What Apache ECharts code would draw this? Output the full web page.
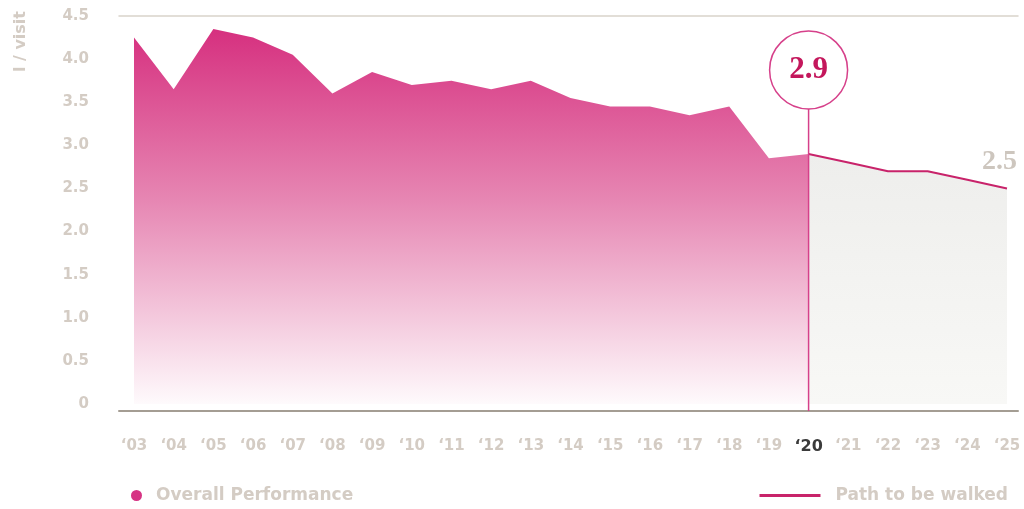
<!DOCTYPE html>
<html>
<head>
<meta charset="utf-8">
<script src="https://cdn.jsdelivr.net/npm/echarts@6/dist/echarts.min.js"></script>
<style>
  html, body { margin: 0; padding: 0; background: #fff; }
  #chart { width: 1024px; height: 509px; }
</style>
</head>
<body>
<div id="chart"></div>
<script>
const years = ['‘03', '‘04', '‘05', '‘06', '‘07', '‘08', '‘09', '‘10', '‘11', '‘12', '‘13', '‘14',
  '‘15', '‘16', '‘17', '‘18', '‘19', '‘20', '‘21', '‘22', '‘23', '‘24', '‘25'];
const overall = [4.25, 3.65, 4.35, 4.25, 4.05, 3.6, 3.85, 3.7, 3.75, 3.65, 3.75, 3.55,
  3.45, 3.45, 3.35, 3.45, 2.85, 2.9, '-', '-', '-', '-', '-'];
const path = ['-', '-', '-', '-', '-', '-', '-', '-', '-', '-', '-', '-',
  '-', '-', '-', '-', '-', 2.9, 2.8, 2.7, 2.7, 2.6, 2.5];
const currentYear = '‘20';
const currentValue = 2.9;

const labelGray = '#d4ccc4';
const pink = '#d63384';
const crimson = '#c8236a';
const sansFont = 'DejaVu Sans';

const chart = echarts.init(document.getElementById('chart'));

chart.setOption({
  animation: false,
  grid: [
    { left: 134, right: 17, top: 16, bottom: 105 },
    { left: 119, right: 6, top: 16, bottom: 105 }
  ],
  xAxis: [
    {
      type: 'category',
      gridIndex: 0,
      data: years,
      boundaryGap: false,
      axisLine: { show: false },
      axisTick: { show: false },
      axisLabel: {
        interval: 0,
        margin: 35,
        color: labelGray,
        fontFamily: sansFont,
        fontWeight: 'bold',
        fontSize: 15,
        formatter: v => v === currentYear ? '{hl|' + v + '}' : v,
        rich: {
          hl: { color: '#3a3a3a', fontFamily: sansFont, fontWeight: 'bold', fontSize: 16 }
        }
      }
    },
    {
      type: 'value',
      gridIndex: 1,
      position: 'top',
      min: 0,
      max: 1,
      axisLine: { show: true, onZero: false, lineStyle: { color: '#d9d3ca', width: 1.5 } },
      axisTick: { show: false },
      axisLabel: { show: false },
      splitLine: { show: false }
    },
    {
      type: 'value',
      gridIndex: 1,
      position: 'bottom',
      offset: 7,
      min: 0,
      max: 1,
      axisLine: { show: true, onZero: false, lineStyle: { color: '#a49d93', width: 2 } },
      axisTick: { show: false },
      axisLabel: { show: false },
      splitLine: { show: false }
    }
  ],
  yAxis: [
    {
      type: 'value',
      gridIndex: 0,
      min: 0,
      max: 4.5,
      interval: 0.5,
      axisLine: { show: false },
      axisTick: { show: false },
      splitLine: { show: false },
      axisLabel: {
        margin: 45,
        color: labelGray,
        fontFamily: sansFont,
        fontWeight: 'bold',
        fontSize: 15,
        formatter: v => v === 0 ? '0' : v.toFixed(1)
      }
    },
    {
      type: 'value',
      gridIndex: 1,
      min: 0,
      max: 1,
      show: false
    }
  ],
  legend: [
    {
      data: [{ name: 'Overall Performance', icon: 'circle', itemStyle: { color: pink } }],
      left: 131,
      top: 487,
      padding: 0,
      itemWidth: 11,
      itemHeight: 11,
      textStyle: { color: labelGray, fontFamily: sansFont, fontWeight: 'bold', fontSize: 17, padding: [0, 0, 0, 9] },
      selectedMode: false
    },
    {
      data: [{ name: 'Path to be walked', icon: 'rect', itemStyle: { color: crimson } }],
      right: 16,
      top: 487,
      padding: 0,
      itemWidth: 61,
      itemHeight: 3,
      textStyle: { color: labelGray, fontFamily: sansFont, fontWeight: 'bold', fontSize: 17, padding: [0, 0, 0, 10] },
      selectedMode: false
    }
  ],
  graphic: [
    {
      type: 'text',
      left: 13,
      top: 11,
      rotation: Math.PI / 2,
      style: {
        text: 'l / visit',
        fill: labelGray,
        font: 'bold 16px "DejaVu Sans"'
      }
    }
  ],
  series: [
    {
      name: 'Overall Performance',
      type: 'line',
      xAxisIndex: 0,
      yAxisIndex: 0,
      data: overall,
      symbol: 'none',
      lineStyle: { width: 0 },
      itemStyle: { color: pink },
      areaStyle: {
        opacity: 1,
        color: new echarts.graphic.LinearGradient(0, 0, 0, 1, [
          { offset: 0, color: '#d6307f' },
          { offset: 0.45, color: '#e685b2' },
          { offset: 1, color: '#fefafc' }
        ])
      },
      z: 2
    },
    {
      name: 'Path to be walked',
      type: 'line',
      xAxisIndex: 0,
      yAxisIndex: 0,
      data: path,
      symbol: 'none',
      lineStyle: { color: crimson, width: 2 },
      itemStyle: { color: crimson },
      areaStyle: {
        opacity: 1,
        color: new echarts.graphic.LinearGradient(0, 0, 0, 1, [
          { offset: 0, color: '#eeeeec' },
          { offset: 1, color: '#f8f8f6' }
        ])
      },
      endLabel: {
        show: true,
        formatter: p => p.value.toFixed(1),
        color: '#cdc6be',
        fontFamily: 'Liberation Serif',
        fontWeight: 'bold',
        fontSize: 28,
        offset: [-33, -27]
      },
      z: 3
    },
    {
      type: 'custom',
      xAxisIndex: 0,
      yAxisIndex: 0,
      data: [[years.indexOf(currentYear), currentValue]],
      z: 5,
      renderItem: (params, api) => {
        const pt = api.coord([api.value(0), api.value(1)]);
        const base = api.coord([api.value(0), 0]);
        const r = 39;
        const cx = pt[0];
        const cy = pt[1] - 84;
        return {
          type: 'group',
          children: [
            {
              type: 'line',
              shape: { x1: cx, y1: cy + r, x2: cx, y2: base[1] + 7 },
              style: { stroke: '#d6408a', lineWidth: 1.5 }
            },
            {
              type: 'circle',
              shape: { cx: cx, cy: cy, r: r },
              style: { fill: '#fff', stroke: '#d6408a', lineWidth: 1.5 }
            },
            {
              type: 'text',
              x: cx,
              y: cy,
              style: {
                text: api.value(1).toFixed(1),
                fill: '#c4175c',
                font: 'bold 31px "Liberation Serif"',
                align: 'center',
                verticalAlign: 'middle'
              }
            }
          ]
        };
      }
    }
  ]
});
</script>
</body>
</html>
